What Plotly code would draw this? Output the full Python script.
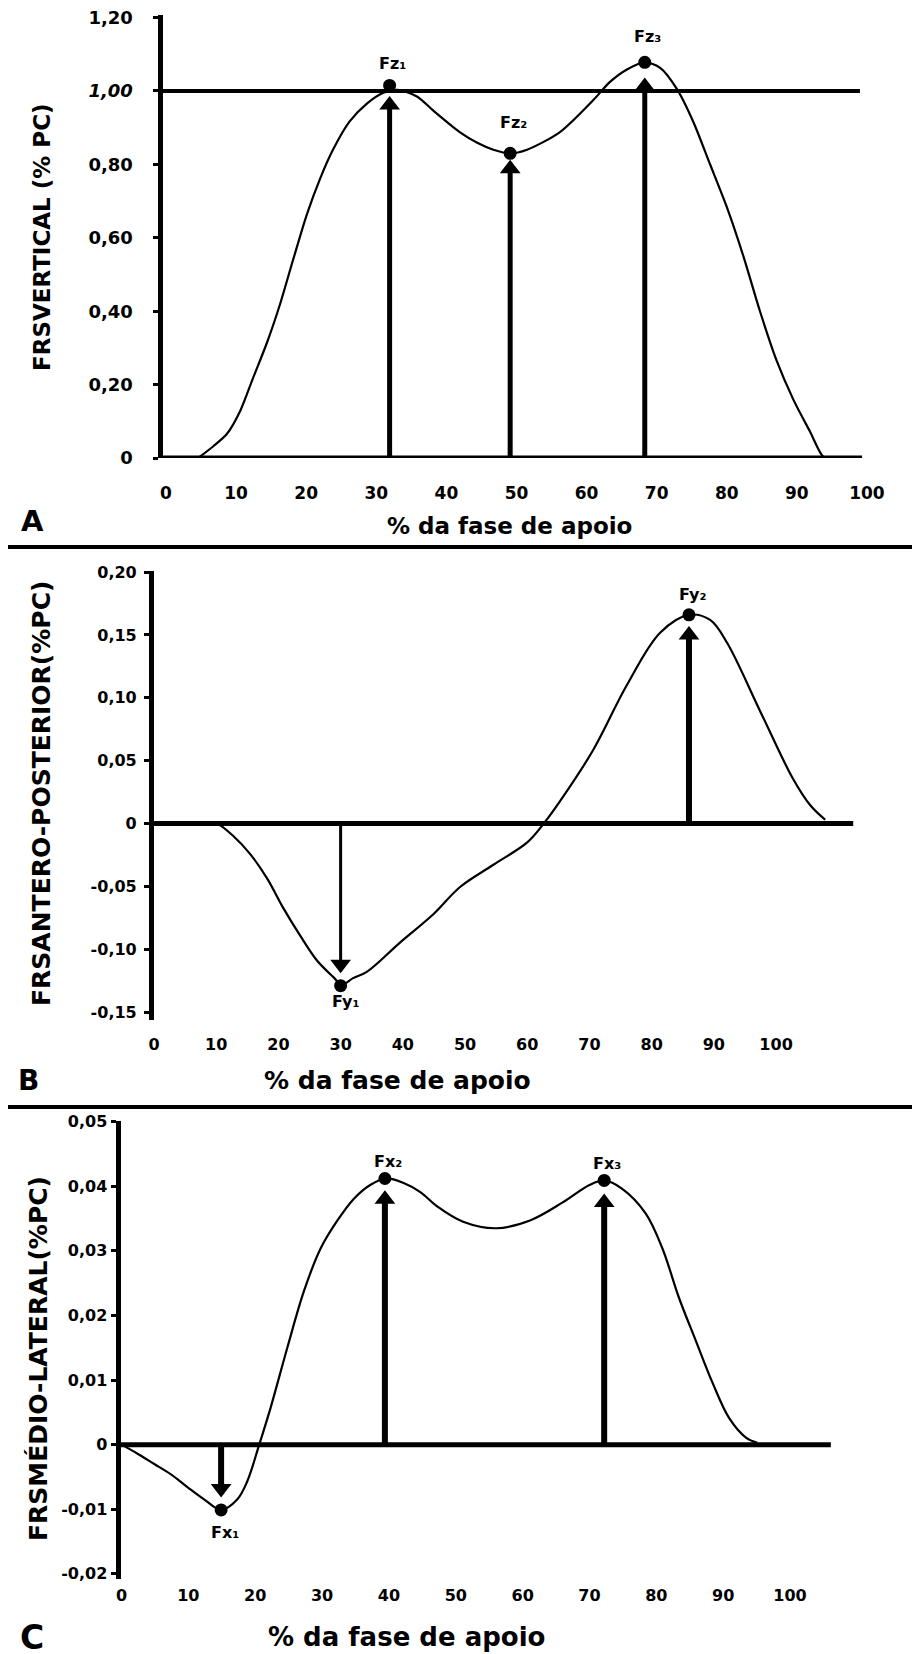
import plotly.graph_objects as go

W, H = 920, 1654
OFF = 8  # page body margin compensation
FONT = "DejaVu Sans"

# ---------------- Data ----------------
x_ticks = [0, 10, 20, 30, 40, 50, 60, 70, 80, 90, 100]
x_ticktext = ["0", "10", "20", "30", "40", "50", "60", "70", "80", "90", "100"]

# Panel A - vertical GRF
fz_x = [4.6, 6.75, 8.7, 10.6, 12.4, 14.4, 16.3, 18.1, 20.1, 22.0, 23.8, 26.2, 28.7, 31.0,
        33.0, 35.8, 38.1, 41.9, 44.4, 46.7, 49.1, 51.5, 56.2, 61.0, 63.3, 65.7, 68.3,
        70.5, 72.9, 75.2, 77.6, 80.0, 82.4, 84.7, 87.1, 89.5, 91.9, 93.8, 95.0]
fz_y = [0.0, 0.032, 0.066, 0.129, 0.217, 0.314, 0.421, 0.538, 0.664, 0.762, 0.839, 0.917,
        0.966, 0.995, 1.003, 0.985, 0.947, 0.888, 0.859, 0.840, 0.830, 0.840, 0.888, 0.976,
        1.024, 1.058, 1.078, 1.063, 1.005, 0.917, 0.801, 0.684, 0.548, 0.402, 0.266, 0.159,
        0.071, 0.003, 0.0]
fz_peak_x = [31.9, 49.1, 68.3]
fz_peak_y = [1.015, 0.830, 1.078]
fz_head_y = [0.962, 0.788, 1.012]
fz_labels = ["Fz₁", "Fz₂", "Fz₃"]
a_yticks = [0, 0.2, 0.4, 0.6, 0.8, 1.0, 1.2]
a_yticktext = ["0", "0,20", "0,40", "0,60", "0,80", "<i>1,00</i>", "1,20"]
a_ref = 1.0

# Panel B - antero-posterior GRF
fy_x = [9.0, 10.1, 12.7, 15.4, 18.2, 20.7, 23.5, 26.2, 28.8, 30.2, 32.0, 34.2, 39.5, 44.9,
        49.2, 54.5, 60.0, 62.5, 65.3, 70.6, 76.0, 81.4, 86.0, 89.4, 92.1, 97.4, 102.7,
        105.5, 107.9]
fy_y = [0.0, 0.0, -0.0097, -0.0239, -0.0438, -0.0665, -0.0892, -0.109, -0.122, -0.128,
        -0.123, -0.118, -0.0949, -0.0722, -0.0505, -0.0330, -0.0150, -0.001, 0.0180, 0.0585,
        0.110, 0.152, 0.166, 0.162, 0.144, 0.0898, 0.0358, 0.0145, 0.003]
fy_peak_x = [30.0, 86.0]
fy_peak_y = [-0.129, 0.166]
fy_head_y = [-0.112, 0.150]
fy_labels = ["Fy₁", "Fy₂"]
b_yticks = [-0.15, -0.10, -0.05, 0, 0.05, 0.10, 0.15, 0.20]
b_yticktext = ["-0,15", "-0,10", "-0,05", "0", "0,05", "0,10", "0,15", "0,20"]

# Panel C - medio-lateral GRF
fx_x = [0.0, 2.4, 4.9, 7.4, 9.9, 12.4, 14.9, 17.3, 18.8, 20.6, 22.3, 24.8, 27.3, 29.8,
        32.3, 34.7, 37.2, 39.6, 42.2, 44.7, 47.2, 51.1, 56.1, 61.1, 66.0, 70.0, 72.2,
        74.9, 78.4, 80.9, 83.4, 85.9, 88.4, 90.9, 93.4, 95.1]
fx_y = [0.0, -0.0014, -0.0030, -0.0046, -0.0066, -0.0085, -0.0101, -0.0085, -0.0057, 0.0,
        0.0057, 0.0150, 0.0238, 0.0304, 0.0347, 0.0380, 0.0402, 0.0412, 0.0405, 0.0391,
        0.0369, 0.0345, 0.0335, 0.0347, 0.0375, 0.0402, 0.0409, 0.0396, 0.0358, 0.0304,
        0.0227, 0.0161, 0.0096, 0.0041, 0.0011, 0.0003]
fx_peak_x = [14.9, 39.4, 72.2]
fx_peak_y = [-0.0101, 0.0412, 0.0409]
fx_head_y = [-0.0068, 0.0380, 0.0375]
fx_labels = ["Fx₁", "Fx₂", "Fx₃"]
c_yticks = [-0.02, -0.01, 0, 0.01, 0.02, 0.03, 0.04, 0.05]
c_yticktext = ["-0,02", "-0,01", "0", "0,01", "0,02", "0,03", "0,04", "0,05"]

# ---------------- Layout geometry (pixels in the screenshot) ----------------
panels = {
    "A": dict(xdom=(162.5, 880), xr=(-0.5, 101.86), ydom=(15, 458), yr=(0, 1.207),
              base_end=99.3, ytick_size=18, xtick_size=17, ystand=16, xstand=23,
              smooth=0.8),
    "B": dict(xdom=(153.94, 870), xr=(-0.01, 115.1), ydom=(571, 1019.5),
              yr=(-0.1559, 0.2009), base_end=112.4, ytick_size=16, xtick_size=16,
              ystand=4, xstand=13, smooth=1.0),
    "C": dict(xdom=(120.5, 850), xr=(-0.15, 108.97), ydom=(1121, 1579), yr=(-0.0208, 0.0501),
              base_end=106.1, ytick_size=16, xtick_size=16, ystand=0, xstand=5,
              smooth=1.0),
}


def pdx(p):
    return max(0.0, (p - OFF) / W)


def pdy(p):
    return 1 - (p - OFF) / H


fig = go.Figure()
BLK = "black"

series = {
    "A": (fz_x, fz_y, fz_peak_x, fz_peak_y, fz_head_y, fz_labels, a_yticks, a_yticktext),
    "B": (fy_x, fy_y, fy_peak_x, fy_peak_y, fy_head_y, fy_labels, b_yticks, b_yticktext),
    "C": (fx_x, fx_y, fx_peak_x, fx_peak_y, fx_head_y, fx_labels, c_yticks, c_yticktext),
}
label_shift = {
    "A": [(3, 22), (3, 31), (3, 26)],
    "B": [(5, -16), (4, 20)],
    "C": [(4, -23), (3, 17), (3, 17)],
}
stem_width = {"A": [5, 5, 5], "B": [3, 6], "C": [6, 6, 6]}

shapes = []
annotations = []
layout_axes = {}

for i, key in enumerate(["A", "B", "C"]):
    cfg = panels[key]
    xs, ys, pkx, pky, hdy, labs, ytv, ytt = series[key]
    n = "" if i == 0 else str(i + 1)
    xa, ya = "x" + n, "y" + n

    # baseline y = 0
    shapes.append(dict(type="line", xref=xa, yref=ya, x0=cfg["xr"][0], x1=cfg["base_end"],
                       y0=0, y1=0, line=dict(color=BLK, width=5)))
    if key == "A":
        shapes.append(dict(type="line", xref=xa, yref=ya, x0=cfg["xr"][0], x1=99.0,
                           y0=a_ref, y1=a_ref, line=dict(color=BLK, width=4)))

    # curve
    fig.add_trace(go.Scatter(x=xs, y=ys, mode="lines", xaxis=xa, yaxis=ya,
                             line=dict(color=BLK, width=2.2, shape="spline",
                                       smoothing=cfg["smooth"]),
                             hoverinfo="skip"))
    # arrows
    for j in range(len(pkx)):
        up = pky[j] > 0
        fig.add_trace(go.Scatter(x=[pkx[j], pkx[j]], y=[0, hdy[j]], mode="lines",
                                 xaxis=xa, yaxis=ya,
                                 line=dict(color=BLK, width=stem_width[key][j]),
                                 hoverinfo="skip"))
        fig.add_trace(go.Scatter(x=[pkx[j]], y=[hdy[j]], mode="markers", xaxis=xa, yaxis=ya,
                                 marker=dict(symbol="triangle-up" if up else "triangle-down",
                                             size=18, color=BLK),
                                 hoverinfo="skip"))
        fig.add_trace(go.Scatter(x=[pkx[j]], y=[pky[j]], mode="markers", xaxis=xa, yaxis=ya,
                                 marker=dict(symbol="circle", size=13, color=BLK),
                                 hoverinfo="skip"))
        dx, dy = label_shift[key][j]
        annotations.append(dict(x=pkx[j], y=pky[j], xref=xa, yref=ya, text=labs[j],
                                showarrow=False, xshift=dx, yshift=dy,
                                font=dict(family=FONT, size=16, color=BLK, weight="bold")))

    layout_axes["xaxis" + n] = dict(
        domain=[pdx(cfg["xdom"][0]), pdx(cfg["xdom"][1])], range=list(cfg["xr"]),
        anchor=ya, showline=False, showgrid=False, zeroline=False, ticks="",
        tickmode="array", tickvals=x_ticks, ticktext=x_ticktext,
        ticklabelstandoff=cfg["xstand"], automargin=False, ticklabeloverflow="allow",
        tickfont=dict(family=FONT, size=cfg["xtick_size"], color=BLK, weight="bold"),
        fixedrange=True)
    layout_axes["yaxis" + n] = dict(
        domain=[pdy(cfg["ydom"][1]), pdy(cfg["ydom"][0])], range=list(cfg["yr"]),
        anchor=xa, showline=True, linecolor=BLK, linewidth=5, showgrid=False,
        zeroline=False, ticks="outside", ticklen=5, tickwidth=3, tickcolor=BLK,
        tickmode="array", tickvals=ytv, ticktext=ytt, ticklabelstandoff=cfg["ystand"],
        automargin=False, ticklabeloverflow="allow",
        tickfont=dict(family=FONT, size=cfg["ytick_size"], color=BLK, weight="bold"),
        fixedrange=True)

# titles and panel letters
texts = [
    ("FRSVERTICAL (% PC)", 42, 237, 23, -90),
    ("% da fase de apoio", 509, 526, 23, 0),
    ("A", 32, 521, 29, 0),
    ("FRSANTERO-POSTERIOR(%PC)", 42, 794, 25, -90),
    ("% da fase de apoio", 397, 1080, 25, 0),
    ("B", 28, 1080, 28, 0),
    ("FRSMÉDIO-LATERAL(%PC)", 38, 1359, 25, -90),
    ("% da fase de apoio", 406, 1637, 26, 0),
    ("C", 32, 1637, 33, 0),
]
for t, x, y, s, ang in texts:
    annotations.append(dict(x=pdx(x), y=pdy(y), xref="paper", yref="paper", text=t,
                            showarrow=False, textangle=ang, xanchor="center", yanchor="middle",
                            font=dict(family=FONT, size=s, color=BLK, weight="bold")))

# panel separators
for yy in (547, 1107):
    shapes.append(dict(type="line", xref="paper", yref="paper", x0=pdx(7), x1=1,
                       y0=pdy(yy), y1=pdy(yy), line=dict(color=BLK, width=4)))

fig.update_layout(
    template="none",
    width=W, height=H, margin=dict(l=0, r=0, t=0, b=0, pad=0, autoexpand=False),
    paper_bgcolor="white", plot_bgcolor="white", showlegend=False,
    hovermode=False, shapes=shapes, annotations=annotations,
    font=dict(family=FONT, color=BLK),
    **layout_axes)

fig.write_html("out.html")
